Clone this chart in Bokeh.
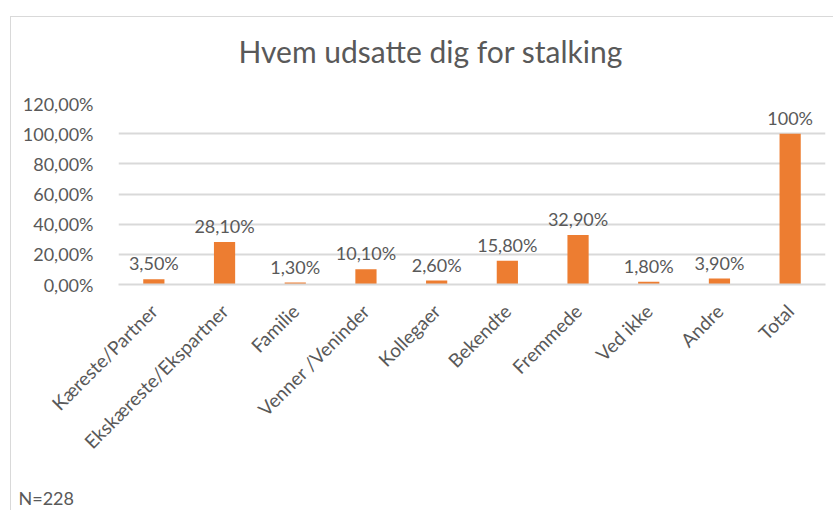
from bokeh.plotting import figure
from bokeh.models import ColumnDataSource, FixedTicker, FactorRange, Range1d, Title
from bokeh.core.properties import value
from bokeh.embed import file_html
from bokeh.resources import INLINE
import math

categories = ["Kæreste/Partner", "Ekskæreste/Ekspartner", "Familie", "Venner /Veninder",
              "Kollegaer", "Bekendte", "Fremmede", "Ved ikke", "Andre", "Total"]
percent_values = [3.5, 28.1, 1.3, 10.1, 2.6, 15.8, 32.9, 1.8, 3.9, 100.0]
value_labels = ["3,50%", "28,10%", "1,30%", "10,10%", "2,60%", "15,80%", "32,90%", "1,80%", "3,90%", "100%"]
y_ticks = [0, 20, 40, 60, 80, 100, 120]
y_tick_labels = ["0,00%", "20,00%", "40,00%", "60,00%", "80,00%", "100,00%", "120,00%"]
title_text = "Hvem udsatte dig for stalking"
note_text = "N=228"

FONT = "Lato"
TXT = "#595959"
GRID = "#D9D9D9"
BAR = "#ED7D31"

src = ColumnDataSource(dict(cat=categories, val=percent_values, lab=value_labels))

p = figure(
    x_range=FactorRange(*categories, range_padding=0),
    y_range=Range1d(0, 120),
    width=823, height=494,
    output_backend="svg", toolbar_location=None,
    min_border_left=107, min_border_right=9, min_border_top=86, min_border_bottom=227,
    margin=(16, 0, 0, 10),
    styles={"border-left": "1px solid #D9D9D9", "border-top": "1px solid #D9D9D9"},
)
p.outline_line_color = None
p.background_fill_color = "white"
p.border_fill_color = "white"
p.title.standoff = 0

p.vbar(x="cat", top="val", width=0.3, source=src, color=BAR, line_color=None)
p.text(x="cat", y="val", text="lab", source=src, text_align="center",
       text_baseline="alphabetic", y_offset=-16, text_font=value(FONT),
       text_font_size="18px", text_color=TXT)

# y axis
p.yaxis.ticker = FixedTicker(ticks=y_ticks)
p.yaxis.major_label_overrides = {t: l for t, l in zip(y_ticks, y_tick_labels)}
p.yaxis.axis_line_color = None
p.yaxis.major_tick_line_color = None
p.yaxis.minor_tick_line_color = None
p.yaxis.major_label_standoff = 19
p.yaxis.major_label_text_font = FONT
p.yaxis.major_label_text_font_size = "18px"
p.yaxis.major_label_text_color = TXT

# x axis
p.xaxis.axis_line_color = GRID
p.xaxis.axis_line_width = 2
p.xaxis.major_tick_line_color = None
p.xaxis.major_label_orientation = math.pi / 4
p.xaxis.major_label_standoff = 17
p.xaxis.major_label_text_font = FONT
p.xaxis.major_label_text_font_size = "19px"
p.xaxis.major_label_text_color = TXT

p.xgrid.grid_line_color = None
p.ygrid.grid_line_color = GRID
p.ygrid.grid_line_width = 2

# title above (spacer nearest to the plot, then the title)
top_spacer = Title(text=" ", text_font_size="1px", standoff=30)
p.add_layout(top_spacer, "above")
main_title = Title(text=title_text, align="left", offset=120, vertical_align="top",
                   standoff=0, text_font=FONT, text_font_size="30px",
                   text_font_style="normal", text_color=TXT)
p.add_layout(main_title, "above")

# sample-size note below the category labels
bottom_spacer = Title(text=" ", text_font_size="1px", standoff=17)
p.add_layout(bottom_spacer, "below")
note = Title(text=note_text, align="left", offset=-100, vertical_align="bottom",
             standoff=2, text_font=FONT, text_font_size="18px",
             text_font_style="normal", text_color=TXT)
p.add_layout(note, "below")

open("out.html", "w").write(file_html(p, INLINE))
